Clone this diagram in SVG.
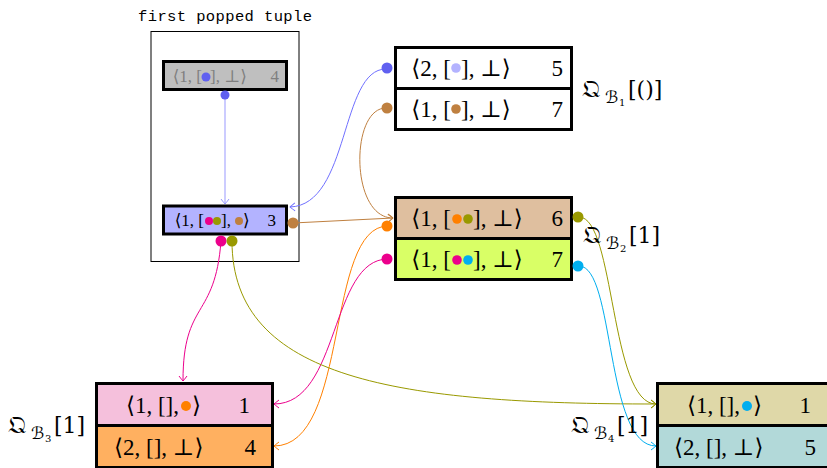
<svg xmlns="http://www.w3.org/2000/svg" width="827" height="468" viewBox="0 0 827 468">
<style>
.box{stroke:#000;stroke-width:3}
.t{font-family:"Liberation Serif","DejaVu Serif","DejaVu Sans",serif;font-size:23px;fill:#000}
.ts{font-family:"Liberation Serif","DejaVu Serif","DejaVu Sans",serif;font-size:17px;fill:#000}
.tg{fill:#7f7f7f}
.lbl{font-family:"DejaVu Serif","Liberation Serif","DejaVu Sans",serif;fill:#000}
.c{fill:none;stroke-width:1}
</style>
<defs>
<marker id="aB" markerUnits="userSpaceOnUse" viewBox="-6 -6 8 12" refX="0" refY="0" markerWidth="8" markerHeight="12" orient="auto"><path d="M-5,-4 Q-1,-1 0,0 Q-1,1 -5,4" fill="none" stroke="#7070ff" stroke-width="1"/></marker>
<marker id="aL" markerUnits="userSpaceOnUse" viewBox="-6 -6 8 12" refX="0" refY="0" markerWidth="8" markerHeight="12" orient="auto"><path d="M-5,-4 Q-1,-1 0,0 Q-1,1 -5,4" fill="none" stroke="#9999ff" stroke-width="1"/></marker>
<marker id="aBr" markerUnits="userSpaceOnUse" viewBox="-6 -6 8 12" refX="0" refY="0" markerWidth="8" markerHeight="12" orient="auto"><path d="M-5,-4 Q-1,-1 0,0 Q-1,1 -5,4" fill="none" stroke="#bf8040" stroke-width="1"/></marker>
<marker id="aO" markerUnits="userSpaceOnUse" viewBox="-6 -6 8 12" refX="0" refY="0" markerWidth="8" markerHeight="12" orient="auto"><path d="M-5,-4 Q-1,-1 0,0 Q-1,1 -5,4" fill="none" stroke="#ff8000" stroke-width="1"/></marker>
<marker id="aP" markerUnits="userSpaceOnUse" viewBox="-6 -6 8 12" refX="0" refY="0" markerWidth="8" markerHeight="12" orient="auto"><path d="M-5,-4 Q-1,-1 0,0 Q-1,1 -5,4" fill="none" stroke="#ec008c" stroke-width="1"/></marker>
<marker id="aOl" markerUnits="userSpaceOnUse" viewBox="-6 -6 8 12" refX="0" refY="0" markerWidth="8" markerHeight="12" orient="auto"><path d="M-5,-4 Q-1,-1 0,0 Q-1,1 -5,4" fill="none" stroke="#999900" stroke-width="1"/></marker>
<marker id="aC" markerUnits="userSpaceOnUse" viewBox="-6 -6 8 12" refX="0" refY="0" markerWidth="8" markerHeight="12" orient="auto"><path d="M-5,-4 Q-1,-1 0,0 Q-1,1 -5,4" fill="none" stroke="#00aeef" stroke-width="1"/></marker>
</defs>
<rect width="827" height="468" fill="#fff"/>

<g id="frame">
<rect x="151" y="31.5" width="148" height="230" fill="none" stroke="#000" stroke-width="1"/>
<text x="138" y="21" font-family="Liberation Mono,DejaVu Sans Mono,monospace" font-size="15.5" textLength="174">first popped tuple</text>
</g>

<g id="connectors">
<path class="c" stroke="#9999ff" d="M225,95 L225,204" marker-end="url(#aL)"/>
<path class="c" stroke="#7070ff" d="M386,69 C340,69 350,205 290,207" marker-end="url(#aB)"/>
<path class="c" stroke="#bf8040" d="M386,108 C350,108 350,218 393,218" marker-end="url(#aBr)"/>
<path class="c" stroke="#bf8040" d="M293,223 L393,218" marker-end="url(#aBr)"/>
<path class="c" stroke="#ff8000" d="M388,226 C325,226 350,446 274,446" marker-end="url(#aO)"/>
<path class="c" stroke="#ec008c" d="M388,259 C330,259 340,404 274,404" marker-end="url(#aP)"/>
<path class="c" stroke="#ec008c" d="M221,241 C215,320 183,300 183,381" marker-end="url(#aP)"/>
<path class="c" stroke="#999900" d="M232,241 C232,380 400,404 656,404" marker-end="url(#aOl)"/>
<path class="c" stroke="#999900" d="M579,217 C615,217 610,404 656,404" marker-end="url(#aOl)"/>
<path class="c" stroke="#00aeef" d="M579,266 C615,266 605,446 656,446" marker-end="url(#aC)"/>
</g>

<g id="popped-gray">
<rect class="box" x="163.5" y="61.5" width="123" height="28" fill="#bfbfbf"/>
<text class="ts tg" x="202" y="82" text-anchor="end">⟨1, [</text>
<circle cx="206" cy="77" r="4.5" fill="#6060f0"/>
<text class="ts tg" x="210" y="82">], ⊥⟩</text>
<text class="ts tg" x="279" y="82" text-anchor="end">4</text>
<circle cx="225" cy="95" r="4.5" fill="#6060f0"/>
</g>

<g id="popped-blue">
<rect class="box" x="163.5" y="206" width="123" height="28" fill="#b3b3ff"/>
<text class="ts" x="204" y="226" text-anchor="end">⟨1, [</text>
<circle cx="209" cy="221" r="4" fill="#ec008c"/>
<circle cx="217" cy="221" r="4" fill="#999900"/>
<text class="ts" x="221" y="226">],</text>
<circle cx="239" cy="221" r="4" fill="#bf8040"/>
<text class="ts" x="243" y="226">⟩</text>
<text class="ts" x="276" y="226" text-anchor="end">3</text>
<circle cx="293" cy="223" r="5.5" fill="#bf8040"/>
<circle cx="221" cy="241" r="5.5" fill="#ec008c"/>
<circle cx="232" cy="241" r="5.5" fill="#999900"/>
</g>

<g id="QB1">
<rect class="box" x="395.5" y="47.5" width="176" height="41" fill="#fff"/>
<rect class="box" x="395.5" y="88.5" width="176" height="41" fill="#fff"/>
<text class="t" x="451" y="76" text-anchor="end">⟨2, [</text>
<circle cx="456" cy="68" r="4.8" fill="#b3b3ff"/>
<text class="t" x="461" y="76">], ⊥⟩</text>
<text class="t" x="563" y="76" text-anchor="end">5</text>
<text class="t" x="451" y="117" text-anchor="end">⟨1, [</text>
<circle cx="456" cy="109" r="4.8" fill="#bf8040"/>
<text class="t" x="461" y="117">], ⊥⟩</text>
<text class="t" x="563" y="117" text-anchor="end">7</text>
<circle cx="387" cy="68" r="5.5" fill="#6060f0"/>
<circle cx="387" cy="108" r="5.5" fill="#bf8040"/>
<text class="lbl" x="582" y="97" font-size="24">𝔔</text>
<text class="lbl" x="605" y="103" font-size="17" font-style="italic">ℬ</text>
<text class="lbl" x="619" y="106" font-size="10">1</text>
<text class="lbl" x="628" y="97" font-size="22">[()]</text>
</g>

<g id="QB2">
<rect class="box" x="395.5" y="197.5" width="176" height="41" fill="#dfbf9f"/>
<rect class="box" x="395.5" y="238.5" width="176" height="41" fill="#d9ff66"/>
<text class="t" x="451" y="226" text-anchor="end">⟨1, [</text>
<circle cx="457" cy="219" r="4.8" fill="#ff8000"/>
<circle cx="468" cy="219" r="4.8" fill="#999900"/>
<text class="t" x="473" y="226">], ⊥⟩</text>
<text class="t" x="563" y="226" text-anchor="end">6</text>
<text class="t" x="451" y="267" text-anchor="end">⟨1, [</text>
<circle cx="457" cy="260" r="4.8" fill="#ec008c"/>
<circle cx="468" cy="260" r="4.8" fill="#00aeef"/>
<text class="t" x="473" y="267">], ⊥⟩</text>
<text class="t" x="563" y="267" text-anchor="end">7</text>
<circle cx="387" cy="226" r="5.5" fill="#ff8000"/>
<circle cx="387" cy="259" r="5.5" fill="#ec008c"/>
<circle cx="578" cy="217" r="5.5" fill="#999900"/>
<circle cx="578" cy="266" r="5.5" fill="#00aeef"/>
<text class="lbl" x="583" y="243" font-size="24">𝔔</text>
<text class="lbl" x="606" y="249" font-size="17" font-style="italic">ℬ</text>
<text class="lbl" x="620" y="252" font-size="10">2</text>
<text class="lbl" x="629" y="243" font-size="22">[1]</text>
</g>

<g id="QB3">
<rect class="box" x="96.5" y="383.5" width="176" height="42" fill="#f5c0dc"/>
<rect class="box" x="96.5" y="425.5" width="176" height="42" fill="#ffb060"/>
<text class="t" x="179" y="413" text-anchor="end">⟨1, [],</text>
<circle cx="186" cy="406" r="5" fill="#ff8000"/>
<text class="t" x="192" y="413">⟩</text>
<text class="t" x="250" y="413" text-anchor="end">1</text>
<text class="t" x="114" y="455">⟨2, [], ⊥⟩</text>
<text class="t" x="256" y="455" text-anchor="end">4</text>
<text class="lbl" x="8" y="433" font-size="24">𝔔</text>
<text class="lbl" x="31" y="439" font-size="17" font-style="italic">ℬ</text>
<text class="lbl" x="45" y="442" font-size="10">3</text>
<text class="lbl" x="54" y="433" font-size="22">[1]</text>
</g>

<g id="QB4">
<rect class="box" x="657.5" y="383.5" width="176" height="42" fill="#dfd8a8"/>
<rect class="box" x="657.5" y="425.5" width="176" height="42" fill="#b2d9d9"/>
<text class="t" x="740" y="413" text-anchor="end">⟨1, [],</text>
<circle cx="747" cy="406" r="5" fill="#00aeef"/>
<text class="t" x="753" y="413">⟩</text>
<text class="t" x="811" y="413" text-anchor="end">1</text>
<text class="t" x="674" y="455">⟨2, [], ⊥⟩</text>
<text class="t" x="816" y="455" text-anchor="end">5</text>
<text class="lbl" x="571" y="433" font-size="24">𝔔</text>
<text class="lbl" x="594" y="439" font-size="17" font-style="italic">ℬ</text>
<text class="lbl" x="608" y="442" font-size="10">4</text>
<text class="lbl" x="617" y="433" font-size="22">[1]</text>
</g>
</svg>
